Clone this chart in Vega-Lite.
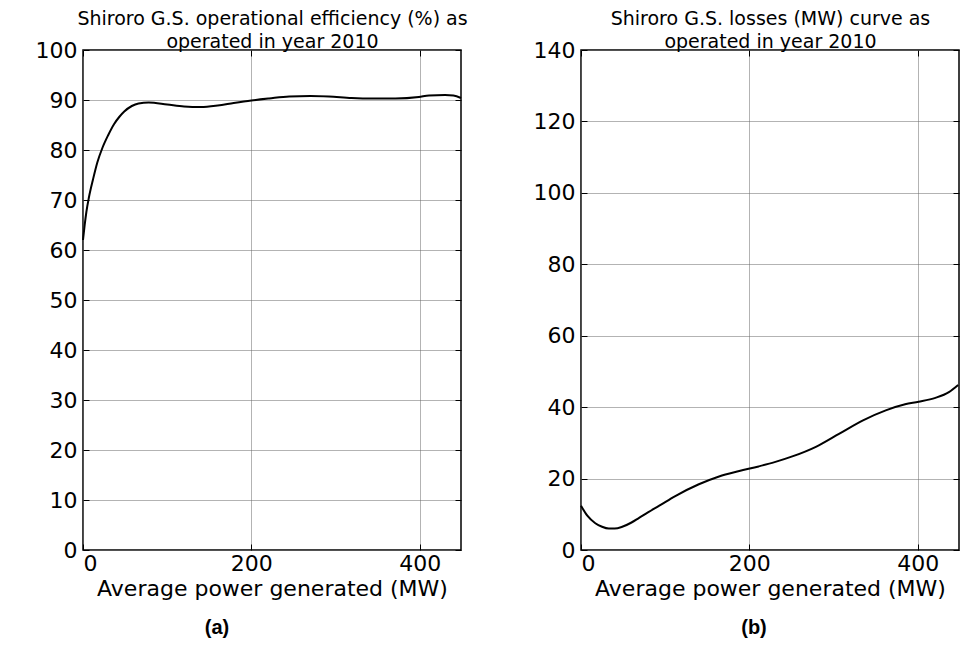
{
  "$schema": "https://vega.github.io/schema/vega-lite/v6.json",
  "background": "white",
  "padding": {"left": 34, "top": 8, "right": 5, "bottom": 5},
  "bounds": "flush",
  "spacing": 120,
  "datasets": {
    "eff": [
      {"p": 0, "v": 62.0}, {"p": 2, "v": 65.0}, {"p": 4, "v": 67.6}, {"p": 7, "v": 70.5},
      {"p": 12, "v": 74.2}, {"p": 17, "v": 77.5}, {"p": 23, "v": 80.4}, {"p": 30, "v": 83.0},
      {"p": 37, "v": 85.2}, {"p": 43, "v": 86.6}, {"p": 49, "v": 87.7}, {"p": 58, "v": 88.8},
      {"p": 66, "v": 89.3}, {"p": 78, "v": 89.5}, {"p": 100, "v": 89.1}, {"p": 120, "v": 88.7},
      {"p": 140, "v": 88.6}, {"p": 160, "v": 88.9}, {"p": 179, "v": 89.4}, {"p": 200, "v": 89.9},
      {"p": 221, "v": 90.3}, {"p": 245, "v": 90.7}, {"p": 270, "v": 90.8}, {"p": 292, "v": 90.7},
      {"p": 319, "v": 90.4}, {"p": 345, "v": 90.3}, {"p": 371, "v": 90.3}, {"p": 399, "v": 90.6},
      {"p": 411, "v": 90.9}, {"p": 430, "v": 91.0}, {"p": 440, "v": 90.9}, {"p": 449, "v": 90.4}
    ],
    "loss": [
      {"p": 0, "v": 12.4}, {"p": 7.5, "v": 9.6}, {"p": 17, "v": 7.5}, {"p": 25, "v": 6.5},
      {"p": 33, "v": 6.0}, {"p": 40, "v": 6.0}, {"p": 49, "v": 6.5}, {"p": 60, "v": 7.7},
      {"p": 69, "v": 9.0}, {"p": 80, "v": 10.6}, {"p": 93, "v": 12.4}, {"p": 112, "v": 15.1},
      {"p": 140, "v": 18.4}, {"p": 164, "v": 20.6}, {"p": 188, "v": 22.1}, {"p": 211, "v": 23.4},
      {"p": 230, "v": 24.6}, {"p": 251, "v": 26.2}, {"p": 279, "v": 28.9}, {"p": 307, "v": 32.6},
      {"p": 335, "v": 36.3}, {"p": 362, "v": 39.1}, {"p": 385, "v": 40.8}, {"p": 401, "v": 41.5},
      {"p": 421, "v": 42.6}, {"p": 437, "v": 44.2}, {"p": 448, "v": 46.2}
    ]
  },
  "config": {
    "font": "DejaVu Sans",
    "view": {"stroke": "black", "strokeWidth": 1.5},
    "axis": {
      "labelFont": "DejaVu Sans",
      "labelFontSize": 22,
      "labelColor": "black",
      "titleFont": "DejaVu Sans",
      "titleFontSize": 22,
      "titleFontWeight": "normal",
      "titleColor": "black",
      "domain": false,
      "tickColor": "black",
      "tickSize": -6,
      "tickWidth": 1,
      "gridColor": "#666666",
      "gridDash": [1, 1],
      "gridWidth": 1,
      "gridOpacity": 1
    }
  },
  "hconcat": [
    {
      "width": 378,
      "height": 500,
      "title": {"text": "(a)", "orient": "bottom", "font": "Liberation Sans", "fontSize": 20, "fontWeight": "bold", "color": "black", "frame": "group", "dx": -55, "offset": 19},
      "data": {"name": "eff"},
      "resolve": {"axis": {"x": "independent", "y": "independent"}},
      "layer": [
        {
          "mark": {"type": "line", "color": "black", "strokeWidth": 2, "interpolate": "monotone"},
          "encoding": {
            "x": {"field": "p", "type": "quantitative", "scale": {"domain": [0, 449], "nice": false, "zero": false},
              "axis": {"orient": "bottom", "values": [0, 200, 400], "grid": true, "title": "Average power generated (MW)", "titlePadding": 4, "labelPadding": 9}},
            "y": {"field": "v", "type": "quantitative", "scale": {"domain": [0, 100], "nice": false},
              "axis": {"orient": "left", "values": [0, 10, 20, 30, 40, 50, 60, 70, 80, 90, 100], "grid": true, "title": null, "labelPadding": 12}}
          }
        },
        {
          "mark": {"type": "line", "opacity": 0},
          "encoding": {
            "x": {"field": "p", "type": "quantitative",
              "axis": {"orient": "top", "values": [0, 200, 400], "grid": false, "labels": false, "title": ["Shiroro G.S. operational efficiency (%) as", "operated in year 2010"], "titleFontSize": 19, "titlePadding": -2, "titleLineHeight": 23}},
            "y": {"field": "v", "type": "quantitative",
              "axis": {"orient": "right", "values": [0, 10, 20, 30, 40, 50, 60, 70, 80, 90, 100], "grid": false, "labels": false, "title": null}}
          }
        }
      ]
    },
    {
      "width": 378,
      "height": 500,
      "title": {"text": "(b)", "orient": "bottom", "font": "Liberation Sans", "fontSize": 20, "fontWeight": "bold", "color": "black", "frame": "group", "dx": -16, "offset": 19},
      "data": {"name": "loss"},
      "resolve": {"axis": {"x": "independent", "y": "independent"}},
      "layer": [
        {
          "mark": {"type": "line", "color": "black", "strokeWidth": 2, "interpolate": "monotone"},
          "encoding": {
            "x": {"field": "p", "type": "quantitative", "scale": {"domain": [0, 449], "nice": false, "zero": false},
              "axis": {"orient": "bottom", "values": [0, 200, 400], "grid": true, "title": "Average power generated (MW)", "titlePadding": 4, "labelPadding": 9}},
            "y": {"field": "v", "type": "quantitative", "scale": {"domain": [0, 140], "nice": false},
              "axis": {"orient": "left", "values": [0, 20, 40, 60, 80, 100, 120, 140], "grid": true, "title": null, "labelPadding": 12}}
          }
        },
        {
          "mark": {"type": "line", "opacity": 0},
          "encoding": {
            "x": {"field": "p", "type": "quantitative",
              "axis": {"orient": "top", "values": [0, 200, 400], "grid": false, "labels": false, "title": ["Shiroro G.S. losses (MW) curve as", "operated in year 2010"], "titleFontSize": 19, "titlePadding": -2, "titleLineHeight": 23}},
            "y": {"field": "v", "type": "quantitative",
              "axis": {"orient": "right", "values": [0, 20, 40, 60, 80, 100, 120, 140], "grid": false, "labels": false, "title": null}}
          }
        }
      ]
    }
  ]
}
